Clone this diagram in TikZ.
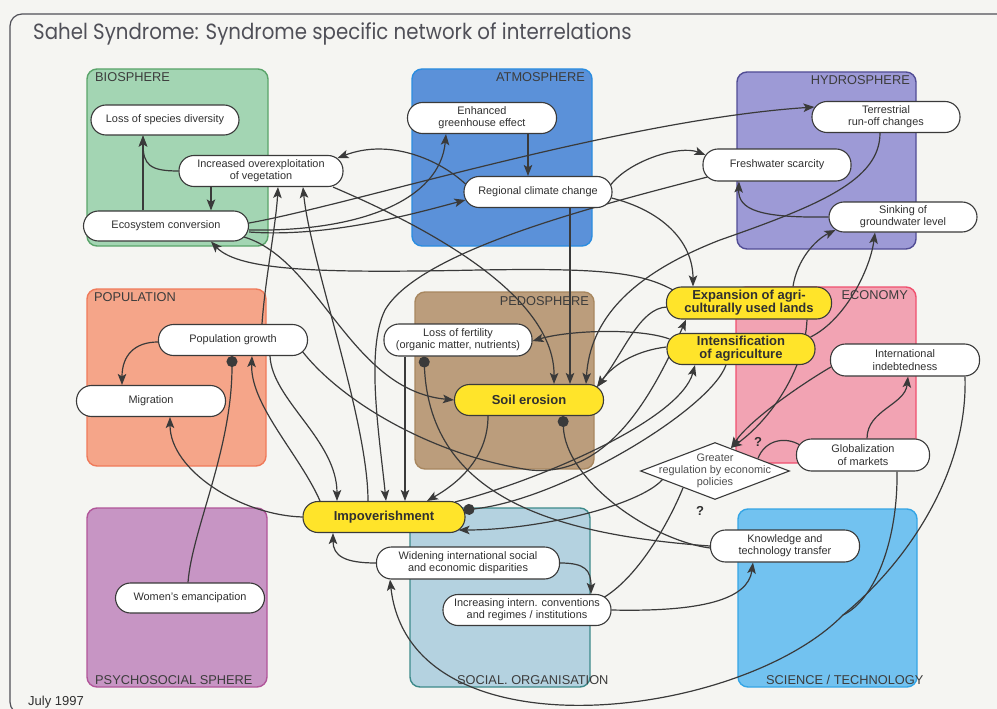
\documentclass[tikz,border=0pt]{standalone}
\usepackage{fontspec}
\setmainfont{Liberation Sans}
\newfontfamily\titlefamily{Poppins}
\usetikzlibrary{arrows.meta,shapes.geometric}
\pgfdeclarelayer{bgl}
\pgfdeclarelayer{lines}
\pgfsetlayers{bgl,lines,main}
\definecolor{bgc}{HTML}{F5F5F2}
\definecolor{nodeline}{HTML}{3A3A3A}
\definecolor{linec}{HTML}{3A3A3A}
\definecolor{textc}{HTML}{303030}
\definecolor{labc}{HTML}{3C3C3C}
\definecolor{titlec}{HTML}{505058}
\definecolor{yel}{HTML}{FFE42A}
\definecolor{bioF}{HTML}{A3D5B3}\definecolor{bioD}{HTML}{5AA46A}
\definecolor{atmF}{HTML}{5B91D9}\definecolor{atmD}{HTML}{2B8DE0}
\definecolor{hydF}{HTML}{9D9AD6}\definecolor{hydD}{HTML}{514D95}
\definecolor{popF}{HTML}{F5A589}\definecolor{popD}{HTML}{EF7A5A}
\definecolor{pedF}{HTML}{BB9D7C}\definecolor{pedD}{HTML}{A8875F}
\definecolor{ecoF}{HTML}{F2A3B3}\definecolor{ecoD}{HTML}{F0506E}
\definecolor{psyF}{HTML}{C795C4}\definecolor{psyD}{HTML}{B1569A}
\definecolor{socF}{HTML}{B4D2E0}\definecolor{socD}{HTML}{3D8A8A}
\definecolor{sciF}{HTML}{72C2F0}\definecolor{sciD}{HTML}{35A5E5}
\newcommand\nf{\fontsize{10.9}{12.3}\selectfont}
\newcommand\ybf{\fontsize{13}{13}\selectfont\bfseries}
\newcommand\lf{\fontsize{12.8}{13}\selectfont}
\begin{document}
\begin{tikzpicture}[x=1pt,y=-1pt,
  sphere/.style={line width=1.4pt, rounded corners=10pt},
  slabel/.style={font=\lf, text=labc, inner sep=0pt},
  pill/.style 2 args={draw=nodeline, line width=1.1pt, fill=white, rounded corners=15pt,
     align=center, inner sep=0pt, font=\nf, text=textc, minimum width=#1pt, minimum height=#2pt},
  ypill/.style 2 args={pill={#1}{#2}, fill=yel, font=\ybf},
  conn/.style={draw=linec, line width=1.2pt},
  arr/.style={conn, -{Stealth[length=11pt,width=8.5pt,inset=2.5pt]}},
  dotend/.style={conn, -{Circle[length=11pt]}},
  qmark/.style={font=\fontsize{13}{13}\selectfont\bfseries, text=textc, inner sep=0pt}
]
\useasboundingbox (0,0) rectangle (997,709);
\begin{pgfonlayer}{bgl}
\fill[bgc] (0,0) rectangle (997,709);
\draw[draw=titlec, line width=1.2pt, rounded corners=12pt] (1010,714) -- (10,714) -- (10,14) -- (1010,14);
\filldraw[sphere, fill=bioF, draw=bioD] (87,69) rectangle (268,246);
\filldraw[sphere, fill=atmF, draw=atmD] (412,69) rectangle (592,246);
\filldraw[sphere, fill=hydF, draw=hydD] (737,72) rectangle (916,249);
\filldraw[sphere, fill=popF, draw=popD] (87,289) rectangle (266,466);
\filldraw[sphere, fill=pedF, draw=pedD] (415,292) rectangle (594,469);
\filldraw[sphere, fill=ecoF, draw=ecoD] (736,287) rectangle (916,463);
\filldraw[sphere, fill=psyF, draw=psyD] (87,508) rectangle (267,687);
\filldraw[sphere, fill=socF, draw=socD] (410,508) rectangle (590,687);
\filldraw[sphere, fill=sciF, draw=sciD] (738,509) rectangle (917,687);
\end{pgfonlayer}
\node[anchor=base west, text=titlec, font=\titlefamily\fontsize{22}{22}\selectfont, inner sep=0pt] (title) at (33,40) {\scalebox{0.898}[1]{Sahel Syndrome: Syndrome specific network of interrelations}};
\node[anchor=base west, text=textc, font=\fontsize{13}{13}\selectfont, inner sep=0pt] (date) at (28,705) {July 1997};
\node[slabel, anchor=north west] (lbio) at (95,72) {BIOSPHERE};
\node[slabel, anchor=north east] (latm) at (585,72) {ATMOSPHERE};
\node[slabel, anchor=north east] (lhyd) at (910,75) {HYDROSPHERE};
\node[slabel, anchor=north west] (lpop) at (94,292) {POPULATION};
\node[slabel, anchor=north east] (lped) at (589,296) {PEDOSPHERE};
\node[slabel, anchor=north east] (leco) at (908,290) {ECONOMY};
\node[slabel, anchor=south west] (lpsy) at (95,685) {PSYCHOSOCIAL SPHERE};
\node[slabel, anchor=south west] (lsoc) at (457,685) {SOCIAL. ORGANISATION};
\node[slabel, anchor=south west] (lsci) at (766,685) {SCIENCE / TECHNOLOGY};
% nodes
\node[pill={148}{30}] (loss) at (165,120) {Loss of species diversity};
\node[pill={164}{31}] (incr) at (261,171) {Increased overexploitation\\of vegetation};
\node[pill={165}{30}] (eco) at (166,226) {Ecosystem conversion};
\node[pill={149}{31}] (enh) at (482,118) {Enhanced\\greenhouse effect};
\node[pill={148}{31}] (reg) at (538,192) {Regional climate change};
\node[pill={148}{32}] (fresh) at (777,165) {Freshwater scarcity};
\node[pill={148}{31}] (terr) at (886,117) {Terrestrial\\run-off changes};
\node[pill={148}{30}] (sink) at (903,217) {Sinking of\\groundwater level};
\node[pill={149}{31}] (pop) at (233,340) {Population growth};
\node[pill={149}{31}] (mig) at (151,401) {Migration};
\node[pill={148}{32}] (fert) at (458,340) {Loss of fertility\\(organic matter, nutrients)};
\node[ypill={149}{31}] (soil) at (529,400) {Soil erosion};
\node[ypill={165}{32}] (exp) at (749,303) {Expansion of agri-\\culturally used lands};
\node[ypill={148}{31}] (int) at (741,349) {Intensification\\of agriculture};
\node[pill={149}{32}] (debt) at (905,360) {International\\indebtedness};
\node[pill={133}{32}] (glob) at (863,455) {Globalization\\of markets};
\node[diamond, draw=nodeline, fill=white, line width=1.1pt, minimum width=149pt, minimum height=57pt, inner sep=0pt] (gr) at (715,471) {};
\node[align=center, font=\nf, text=textc!85, inner sep=0pt] (grt) at (715,471) {Greater\\regulation by economic\\policies};
\node[ypill={162}{31}] (imp) at (384,517) {Impoverishment};
\node[pill={183}{32}] (wid) at (468,563) {Widening international social\\and economic disparities};
\node[pill={168}{31}] (conv) at (527,610) {Increasing intern. conventions\\and regimes / institutions};
\node[pill={149}{32}] (know) at (785,546) {Knowledge and\\technology transfer};
\node[pill={149}{30}] (wom) at (190,598) {Women's emancipation};
\node[qmark] (q1) at (758,442) {?};
\node[qmark] (q2) at (700,511) {?};
\coordinate (mrg) at (843,615);
% connectors
\begin{pgfonlayer}{lines}
\draw[arr] (incr.west) .. controls (150,171) and (143,165) .. ([xshift=-22pt]loss.south);
\draw[arr] ([xshift=-23pt]eco.north) -- ([xshift=-22pt]loss.south);
\draw[arr] ([xshift=-50pt]incr.south) -- ([xshift=45pt]eco.north);
\draw[arr] ([xshift=2pt,yshift=8pt]reg.west) .. controls (440,160) and (390,138) .. ([xshift=-6pt,yshift=13pt]incr.east);
\draw[arr] ([yshift=-4pt]eco.east) .. controls (360,232) and (440,200) .. ([xshift=-36pt]enh.south);
\draw[arr] ([yshift=-6pt]eco.east) .. controls (330,238) and (420,212) .. ([xshift=2pt,yshift=-8pt]reg.west);
\draw[arr] ([yshift=3pt]eco.east) .. controls (350,205) and (620,120) .. ([xshift=3pt,yshift=10pt]terr.west);
\draw[arr] ([xshift=-5pt,yshift=-11pt]eco.east) .. controls (320,260) and (350,390) .. (soil.west);
\draw[arr] ([xshift=7pt,yshift=13pt]exp.west) .. controls (640,272) and (600,268) .. (480,270) .. controls (330,273) and (240,272) .. ([xshift=45pt]eco.south);
\draw[arr] ([xshift=29pt]pop.north) .. controls (265,280) and (276,225) .. ([xshift=17pt]incr.south);
\draw[arr] ([xshift=-16pt]imp.north) .. controls (368,420) and (310,260) .. ([xshift=42pt]incr.south);
\draw[arr] ([xshift=-64pt]imp.north) .. controls (300,455) and (250,405) .. ([xshift=19pt]pop.south);
\draw[arr] ([xshift=37pt]pop.south) .. controls (272,400) and (337,440) .. ([xshift=-47pt]imp.north);
\draw[arr] ([xshift=-53pt]fert.south) -- ([xshift=21pt]imp.north);
\draw[arr] ([xshift=5pt,yshift=-12pt]fresh.west) .. controls (600,205) and (420,250) .. (385,310) .. controls (365,350) and (380,440) .. ([xshift=2pt]imp.north);
\draw[arr] ([xshift=-41pt]soil.south) .. controls (488,460) and (455,485) .. ([xshift=43pt]imp.north);
\draw[arr] ([xshift=32pt]reg.south) -- ([xshift=41pt]soil.north);
\draw[arr] ([xshift=72pt]incr.south) .. controls (410,220) and (555,290) .. ([xshift=25pt]soil.north);
\draw[arr] ([xshift=-6pt]terr.south) .. controls (880,180) and (820,205) .. (720,240) .. controls (630,275) and (590,320) .. ([xshift=57pt]soil.north);
\draw[arr] ([yshift=2pt]int.west) .. controls (640,350) and (615,362) .. ([xshift=-7pt,yshift=13pt]soil.east);
\draw[arr] ([xshift=1pt,yshift=-4pt]exp.west) .. controls (640,308) and (625,350) .. ([xshift=-7pt,yshift=13pt]soil.east);
\draw[arr] ([xshift=3pt,yshift=10pt]int.west) .. controls (640,328) and (570,330) .. ([yshift=-1pt]fert.east);
\draw[arr] ([xshift=-1pt,yshift=-6pt]reg.east) .. controls (660,210) and (693,240) .. ([xshift=-56pt]exp.north);
\draw[arr] ([xshift=-2pt,yshift=7pt]reg.east) .. controls (630,160) and (680,145) .. ([xshift=3pt,yshift=10pt]fresh.west);
\draw[arr] (sink.west) .. controls (760,218) and (738,210) .. ([xshift=-38pt]fresh.south);
\draw[arr] ([xshift=46pt]enh.south) -- ([xshift=-10pt]reg.north);
\draw[arr] ([xshift=44pt]exp.north) .. controls (797,260) and (815,240) .. ([xshift=7pt,yshift=-13pt]sink.west);
\draw[arr] ([xshift=-5pt,yshift=12pt]int.east) .. controls (845,320) and (870,270) .. ([xshift=-28pt]sink.south);
\draw[arr] ([xshift=1pt,yshift=-7pt]debt.west) .. controls (800,385) and (750,420) .. ([xshift=16pt,yshift=-6pt]gr.north);
\draw[arr] ([xshift=58pt]exp.south) .. controls (805,370) and (770,420) .. ([xshift=16pt,yshift=-6pt]gr.north);
\draw[dotend] ([xshift=-15pt]int.south) .. controls (710,410) and (560,500) .. ([xshift=-2pt,yshift=7pt]imp.east);
\draw[arr] ([xshift=4pt]glob.north) .. controls (867,410) and (905,405) .. ([xshift=3pt]debt.south);
\draw[conn] ([xshift=4pt,yshift=10pt]glob.west) .. controls (785,436) and (765,440) .. ([xshift=43pt,yshift=-16.4pt]gr.north);
\draw[conn] ([xshift=-7pt,yshift=13pt]conv.east) .. controls (640,575) and (670,520) .. ([xshift=-32pt,yshift=12.2pt]gr.south);
\draw[arr] (conv.east) .. controls (700,612) and (748,600) .. ([xshift=-32pt]know.south);
\draw[arr] (wid.east) .. controls (585,563) and (591,570) .. ([xshift=64pt]conv.north);
\draw[arr] (wid.west) .. controls (345,563) and (333,556) .. ([xshift=-51pt]imp.south);
\draw[arr] (imp.west) .. controls (240,515) and (170,470) .. ([xshift=19pt]mig.south);
\draw[arr] ([yshift=-2pt]pop.west) .. controls (135,342) and (122,355) .. ([xshift=-29pt]mig.north);
\draw[dotend] ([xshift=-2pt]wom.north) .. controls (192,530) and (232,450) .. ([xshift=-1pt]pop.south);
\draw[dotend] (know.west) .. controls (560,535) and (430,500) .. ([xshift=-34pt]fert.south);
\draw[dotend] ([yshift=-2pt]know.west) .. controls (650,540) and (565,480) .. ([xshift=34pt]soil.south);
\draw[arr] ([xshift=22.5pt,yshift=-8.6pt]gr.west) .. controls (640,505) and (540,530) .. ([xshift=-7pt,yshift=-13pt]imp.east);
\draw[arr] ([xshift=71pt,yshift=-1pt]imp.north) .. controls (540,480) and (680,420) .. ([xshift=-46pt]int.south);
\draw[arr] ([xshift=-6pt,yshift=-11pt]pop.east) .. controls (340,400) and (430,455) .. (530,470) .. controls (610,478) and (655,390) .. ([xshift=-63pt]exp.south);
\draw[arr] ([xshift=60pt]debt.south) .. controls (968,470) and (910,560) .. (mrg) .. controls (740,720) and (410,760) .. ([xshift=-78pt]wid.south);
\draw[conn] ([xshift=34pt]glob.south) .. controls (898,540) and (875,600) .. (mrg);
\end{pgfonlayer}
\end{tikzpicture}
\end{document}
